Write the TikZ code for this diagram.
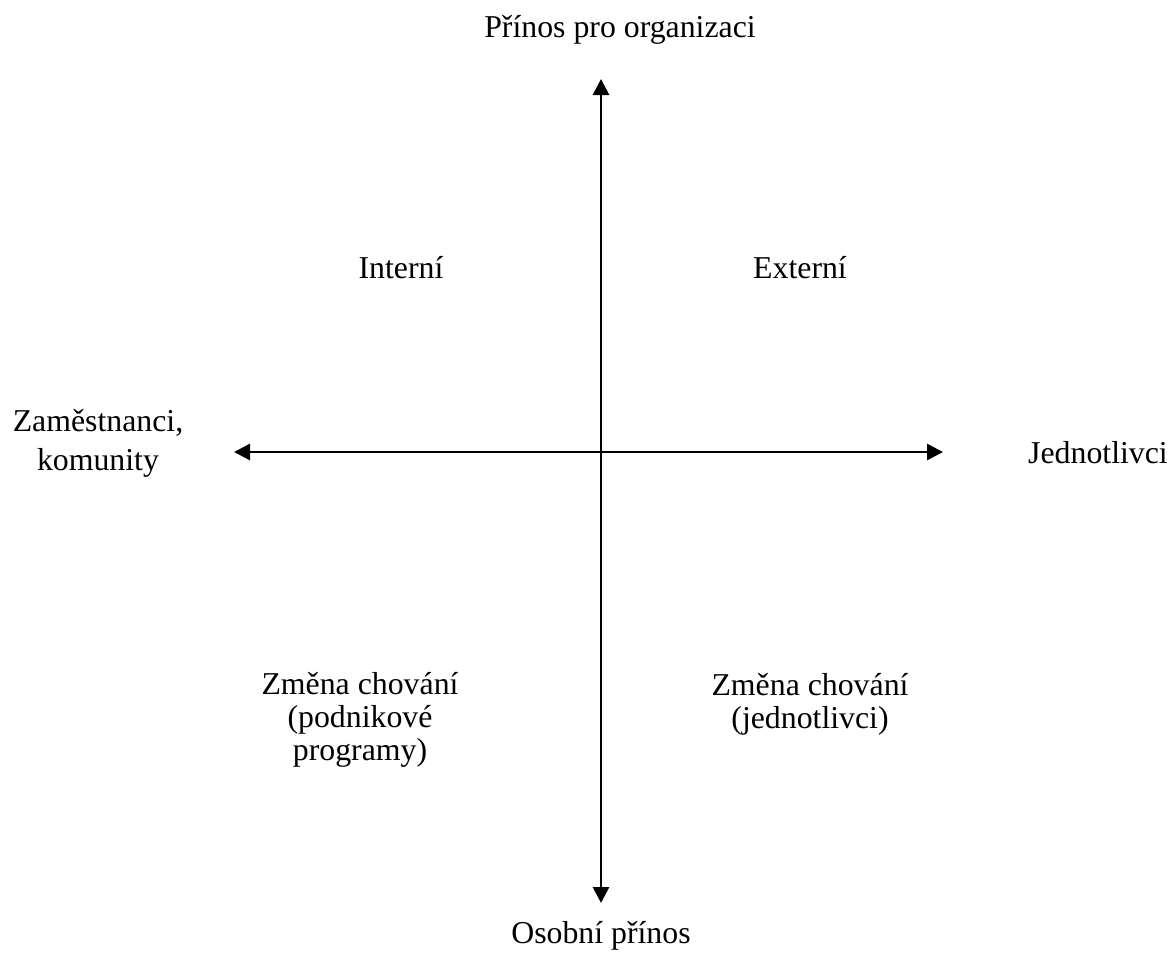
\documentclass[tikz,border=0pt]{standalone}
\usepackage{fontspec}
\setmainfont{Liberation Serif}
\usetikzlibrary{arrows.meta}
\begin{document}
\begin{tikzpicture}[x=0.02cm,y=-0.02cm,
  lbl/.style={inner sep=0pt,align=center,font=\fontsize{18.1pt}{18.9pt}\selectfont},
  tip/.style={Triangle[width=0.32cm,length=0.32cm]},
  axis/.style={line width=1.6pt,{Triangle[width=0.32cm,length=0.32cm]}-{Triangle[width=0.32cm,length=0.32cm]}}]
\useasboundingbox (0,0) rectangle (1172,954);
\coordinate (top) at (601,79);
\coordinate (bot) at (601,903);
\coordinate (left) at (234,452);
\coordinate (right) at (943,452);
\draw[axis] (top) -- (bot);
\draw[axis] (left) -- (right);
\node[lbl] (ntop) at (620,30) {Přínos pro organizaci};
\node[lbl] (nbot) at (601,936) {Osobní přínos};
\node[lbl] (nleft) at (98,443) {Zaměstnanci,\\[0.12cm]komunity};
\node[lbl] (nright) at (1098,453) {Jednotlivci};
\node[lbl] (int) at (401,268) {Interní};
\node[lbl] (ext) at (800,268) {Externí};
\node[lbl] (q3) at (360,720) {Změna chování\\(podnikové\\programy)};
\node[lbl] (q4) at (810,704) {Změna chování\\(jednotlivci)};
\end{tikzpicture}
\end{document}
